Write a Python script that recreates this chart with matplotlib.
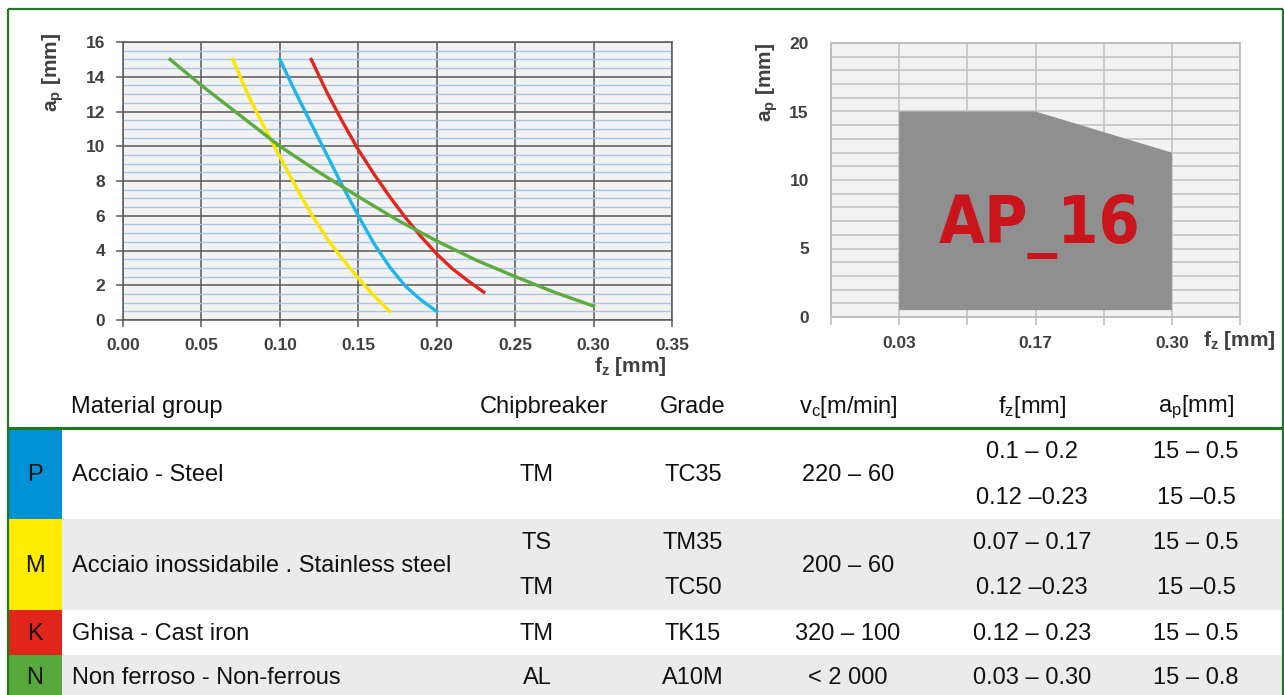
import os
import matplotlib
matplotlib.use('Agg')
import matplotlib.pyplot as plt
from matplotlib import font_manager
from matplotlib.patches import Rectangle, Polygon
from matplotlib.ticker import MultipleLocator

W, H = 1284, 695

# curves of the left chart: f_z [mm] -> a_p [mm]
fz_P = [0.10, 0.11, 0.12, 0.13, 0.14, 0.15, 0.16, 0.17, 0.18, 0.19, 0.20]
ap_P = [15.0, 13.1, 11.3, 9.5, 7.7, 6.0, 4.4, 3.05, 1.95, 1.15, 0.5]
fz_M = [0.07, 0.08, 0.09, 0.10, 0.11, 0.12, 0.13, 0.14, 0.15, 0.16, 0.17]
ap_M = [15.0, 12.9, 11.1, 9.4, 7.7, 6.1, 4.7, 3.5, 2.4, 1.4, 0.5]
fz_K = [0.12, 0.13, 0.14, 0.15, 0.16, 0.17, 0.18, 0.19, 0.20, 0.21, 0.22, 0.23]
ap_K = [15.0, 13.1, 11.4, 9.8, 8.4, 7.1, 5.9, 4.8, 3.8, 2.95, 2.25, 1.6]
fz_N = [0.03, 0.05, 0.07, 0.10, 0.125, 0.15, 0.175, 0.20, 0.225, 0.25, 0.275, 0.30]
ap_N = [15.0, 13.5, 12.1, 10.0, 8.5, 7.1, 5.75, 4.55, 3.45, 2.5, 1.6, 0.8]

# right chart: working area of the AP_16 insert
fz_cols = ['', '0.03', '', '0.17', '', '0.30', '']
ap16_fz = ['0.03', '0.17', '0.30']
ap16_top = [15, 15, 12]
ap16_bottom = 0.5

# table
groups = ['P', 'M', 'K', 'N']
group_colors = ['#0091d6', '#ffec00', '#e2251b', '#56a83a']
curve_colors = ['#1cb6ea', '#fbe600', '#e3261c', '#5cab3c']
materials = ['Acciaio - Steel', 'Acciaio inossidabile . Stainless steel',
             'Ghisa - Cast iron', 'Non ferroso - Non-ferrous']
chipbreakers = [['TM'], ['TS', 'TM'], ['TM'], ['AL']]
grades = [['TC35'], ['TM35', 'TC50'], ['TK15'], ['A10M']]
vc = ['220 – 60', '200 – 60', '320 – 100', '< 2 000']
fz_range = [['0.1 – 0.2', '0.12 –0.23'], ['0.07 – 0.17', '0.12 –0.23'],
            ['0.12 – 0.23'], ['0.03 – 0.30']]
ap_range = [['15 – 0.5', '15 –0.5'], ['15 – 0.5', '15 –0.5'],
            ['15 – 0.5'], ['15 – 0.8']]

plt.rcParams['font.family'] = ['Liberation Sans', 'DejaVu Sans']
plt.rcParams['mathtext.fontset'] = 'custom'
plt.rcParams['mathtext.rm'] = 'Liberation Sans'
plt.rcParams['mathtext.bf'] = 'Liberation Sans:bold'
plt.rcParams['mathtext.it'] = 'Liberation Sans:italic'


def condensed_bold():
    # look for a narrow bold face for the big label
    files = [f.fname for f in font_manager.fontManager.ttflist]
    for pref in ['LiberationSansNarrow-Bold.', 'DejaVuSansCondensed-Bold.',
                 'NotoSans-CondensedBold.', 'RobotoCondensed-Bold.']:
        for fn in files:
            if os.path.basename(fn).startswith(pref):
                return font_manager.FontProperties(fname=fn)
    for fn in files:
        b = os.path.basename(fn)
        if ('Condensed' in b or 'Narrow' in b) and 'Bold' in b and 'Italic' not in b \
                and 'Oblique' not in b and 'Extra' not in b and 'Semi' not in b:
            return font_manager.FontProperties(fname=fn)
    return font_manager.FontProperties(family='Liberation Sans', weight='bold')


TXT = '#404040'
GREEN = '#1f771f'


def box(x0, y0, x1, y1):
    return [x0 / W, 1 - y1 / H, (x1 - x0) / W, (y1 - y0) / H]


def fxy(x, y):
    return x / W, 1 - y / H


fig = plt.figure(figsize=(12.84, 6.95), dpi=100)

# ---- table / frame layer (pixel coordinates)
tb = fig.add_axes([0, 0, 1, 1])
tb.set_xlim(0, W)
tb.set_ylim(H, 0)
tb.axis('off')

row_edges = [429, 519, 610, 655, 700]
col_x = {'chip': 537, 'grade': 693, 'vc': 848, 'fz': 1032, 'ap': 1196}
fs = 17
ink = '#111111'
for i, g in enumerate(groups):
    top, bot = row_edges[i], row_edges[i + 1]
    mid = (top + bot) / 2 + 1
    if i % 2 == 1:
        tb.add_patch(Rectangle((62, top), 1283 - 62, bot - top, color='#ebebeb', lw=0))
    tb.add_patch(Rectangle((8, top), 54, bot - top, color=group_colors[i], lw=0))
    tb.text(35, mid, g, ha='center', va='center', fontsize=fs, color=ink)
    tb.text(72, mid, materials[i], ha='left', va='center', fontsize=fs, color=ink)
    tb.text(col_x['vc'], mid, vc[i], ha='center', va='center', fontsize=fs, color=ink)
    for key, vals in (('chip', chipbreakers[i]), ('grade', grades[i]),
                      ('fz', fz_range[i]), ('ap', ap_range[i])):
        n = len(vals)
        for j, v in enumerate(vals):
            y = mid + (j - (n - 1) / 2) * 45
            tb.text(col_x[key], y, v, ha='center', va='center', fontsize=fs, color=ink)

hy = 407
tb.text(71, hy, 'Material group', ha='left', va='center', fontsize=fs, color=ink)
tb.text(544, hy, 'Chipbreaker', ha='center', va='center', fontsize=fs, color=ink)
tb.text(693, hy, 'Grade', ha='center', va='center', fontsize=fs, color=ink)
tb.text(848, hy, r'v$_\mathrm{c}$[m/min]', ha='center', va='center', fontsize=fs, color=ink)
tb.text(1032, hy, r'f$_\mathrm{z}$[mm]', ha='center', va='center', fontsize=fs, color=ink)
tb.text(1196, hy, r'a$_\mathrm{p}$[mm]', ha='center', va='center', fontsize=fs, color=ink)

tb.plot([8, 1283], [428, 428], color=GREEN, lw=2.2, solid_capstyle='butt')
tb.plot([8, 1283], [9, 9], color=GREEN, lw=1.6, solid_capstyle='butt')
tb.plot([8, 8], [9, 700], color=GREEN, lw=1.6, solid_capstyle='butt')
tb.plot([1283, 1283], [9, 700], color=GREEN, lw=1.6, solid_capstyle='butt')

# ---- left chart
ax = fig.add_axes(box(123, 42, 672, 320))
ax.set_facecolor('#f2f2f2')
ax.set_xlim(0, 0.35)
ax.set_ylim(0, 16)
ax.xaxis.set_major_locator(MultipleLocator(0.05))
ax.yaxis.set_major_locator(MultipleLocator(2))
ax.yaxis.set_minor_locator(MultipleLocator(0.5))
ax.grid(which='major', color='#595959', lw=1.1)
ax.grid(which='minor', axis='y', color='#a8c6e6', lw=1.0)
ax.set_axisbelow(True)
for s in ax.spines.values():
    s.set_color('#595959')
    s.set_linewidth(1.1)
ax.tick_params(which='major', length=5, width=1.1, color='#595959', labelcolor=TXT,
               labelsize=12.5)
ax.tick_params(axis='x', pad=8)
ax.tick_params(axis='y', pad=8)
ax.tick_params(which='minor', length=0)
ax.set_xticklabels([f'{v:.2f}' for v in ax.get_xticks()], fontweight='bold')
ax.set_yticklabels([f'{v:.0f}' for v in ax.get_yticks()], fontweight='bold')
for fz, ap, c in zip([fz_P, fz_M, fz_K, fz_N], [ap_P, ap_M, ap_K, ap_N], curve_colors):
    ax.plot(fz, ap, color=c, lw=2.4, zorder=3)

fig.text(*fxy(53, 33), r'a$_\mathbf{p}$ [mm]', rotation=90, ha='center', va='top',
         fontsize=15, fontweight='bold', color=TXT)
fig.text(*fxy(667, 367), r'f$_\mathbf{z}$ [mm]', ha='right', va='center',
         fontsize=15, fontweight='bold', color=TXT)

# ---- right chart
ax2 = fig.add_axes(box(831, 43, 1240, 317))
ax2.set_facecolor('#f2f2f2')
ax2.set_xlim(0, len(fz_cols) - 1)
ax2.set_ylim(0, 20)
ax2.set_xticks(range(len(fz_cols)))
ax2.set_xticklabels(fz_cols, fontweight='bold')
ax2.yaxis.set_major_locator(MultipleLocator(5))
ax2.yaxis.set_minor_locator(MultipleLocator(1))
ax2.set_yticklabels([f'{v:.0f}' for v in ax2.get_yticks()], fontweight='bold')
ax2.grid(which='both', color='#c4c4c4', lw=1.2)
ax2.set_axisbelow(True)
for s in ax2.spines.values():
    s.set_color('#bdbdbd')
    s.set_linewidth(1.4)
ax2.tick_params(axis='x', length=6, width=1.2, color='#bdbdbd', labelcolor=TXT,
                labelsize=12.5, pad=8)
ax2.tick_params(axis='y', which='both', length=0, labelcolor=TXT, labelsize=12.5, pad=16)

xs = [fz_cols.index(v) for v in ap16_fz]
verts = [(xs[0], ap16_bottom)] + list(zip(xs, ap16_top)) + [(xs[-1], ap16_bottom)]
ax2.add_patch(Polygon(verts, closed=True, facecolor='#8f8f8f', edgecolor='none', zorder=2))

big = fig.text(*fxy(1040, 243), 'AP_16', ha='center', va='baseline',
               fontproperties=condensed_bold(), color='#c8141a')
big.set_fontsize(58)
r = fig.canvas.get_renderer()
wpx = big.get_window_extent(r).width
big.set_fontsize(58 * 202 / wpx)

fig.text(*fxy(767, 43), r'a$_\mathbf{p}$ [mm]', rotation=90, ha='center', va='top',
         fontsize=15, fontweight='bold', color=TXT)
fig.text(*fxy(1239, 340), r'f$_\mathbf{z}$ [mm]', ha='center', va='center',
         fontsize=15, fontweight='bold', color=TXT)

fig.savefig('out.png', dpi=100)
